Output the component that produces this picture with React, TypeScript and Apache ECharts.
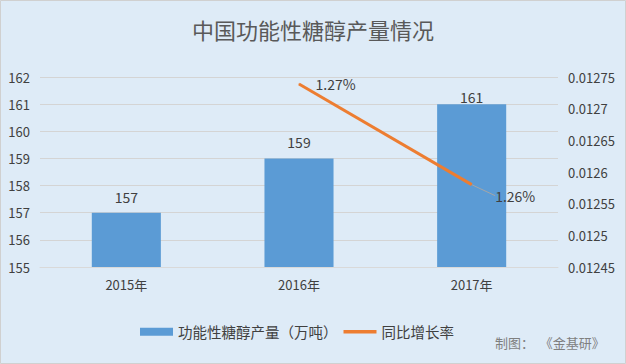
import React, { useEffect, useRef } from "react";
import * as echarts from "echarts";

const categories = ["2015年", "2016年", "2017年"];
const outputValues = [157, 159, 161];
const growthValues: (number | null)[] = [null, 0.012739, 0.01258];
const leftTicks = [155, 162, 1];
const rightTicks = [0.01245, 0.01275, 0.00005];

const FONT = "'Noto Sans CJK SC', 'Noto Sans', sans-serif";

export default function App() {
  const ref = useRef<HTMLDivElement>(null);
  useEffect(() => {
    const chart = echarts.init(ref.current!, null, { renderer: "svg" });
    chart.setOption({
      animation: false,
      backgroundColor: "#deebf7",
      textStyle: { fontFamily: FONT },
      title: {
        text: "中国功能性糖醇产量情况",
        left: "center",
        top: 13,
        textStyle: { fontSize: 22, fontWeight: "normal", color: "#595959", fontFamily: FONT },
      },
      legend: {
        bottom: 20,
        left: 135,
        itemGap: 6,
        itemWidth: 33,
        itemHeight: 8,
        textStyle: { fontSize: 14.5, color: "#404040", fontFamily: FONT },
        data: [
          { name: "功能性糖醇产量（万吨）", icon: "rect" },
          { name: "同比增长率", icon: "path://M0,0 L10,0 L10,1 L0,1 Z" },
        ],
      },
      graphic: [
        {
          id: "source",
          type: "text",
          left: 495,
          top: 336,
          style: { text: "制图：  《金基研》", fontSize: 13, fill: "#7f7f7f", fontFamily: FONT },
        },
        {
          id: "border",
          type: "rect",
          shape: { x: 0.5, y: 0.5, width: 625, height: 363 },
          style: { fill: "none", stroke: "#d0d0d0", lineWidth: 1 },
          silent: true,
        },
      ],
      grid: { left: 40, right: 68, top: 77, bottom: 97 },
      xAxis: {
        type: "category",
        data: categories,
        axisLine: { show: true, lineStyle: { color: "#d9d9d9" } },
        axisTick: { show: false },
        axisLabel: { fontSize: 13, color: "#404040", margin: 11 },
      },
      yAxis: [
        {
          type: "value",
          min: leftTicks[0],
          max: leftTicks[1],
          interval: leftTicks[2],
          axisLine: { show: false },
          axisTick: { show: false },
          axisLabel: { fontSize: 13, color: "#404040", margin: 10 },
          splitLine: { lineStyle: { color: "#d4d4d4" } },
        },
        {
          type: "value",
          min: rightTicks[0],
          max: rightTicks[1],
          interval: rightTicks[2],
          axisLine: { show: false },
          axisTick: { show: false },
          axisLabel: {
            fontSize: 13,
            color: "#404040",
            margin: 10,
            formatter: (v: number) => String(parseFloat(v.toFixed(5))),
          },
          splitLine: { show: false },
        },
      ],
      series: [
        {
          name: "功能性糖醇产量（万吨）",
          type: "bar",
          data: outputValues.map((v, i) =>
            i === outputValues.length - 1 ? { value: v, label: { distance: 0 } } : v
          ),
          barWidth: "40%",
          itemStyle: { color: "#5b9bd5" },
          label: { show: true, position: "top", distance: 9, fontSize: 14, color: "#404040" },
        },
        {
          name: "同比增长率",
          type: "line",
          yAxisIndex: 1,
          data: growthValues.map((v, i) =>
            i === 1 ? { value: v, label: { distance: 16 }, labelLine: { show: false } } : v
          ),
          symbol: "circle",
          symbolSize: 1,
          showSymbol: true,
          lineStyle: { color: "#ed7d31", width: 3 },
          itemStyle: { color: "#ed7d31" },
          label: {
            show: true,
            position: "right",
            distance: 4,
            fontSize: 14,
            color: "#404040",
            formatter: (p: any) => (p.value * 100).toFixed(2) + "%",
          },
          labelLine: { show: true, lineStyle: { color: "#a6a6a6", width: 1 } },
          labelLayout: (params: any) =>
            params.dataIndex === 2 ? { dx: 19, dy: 11 } : {},
        },
      ],
    });
    return () => chart.dispose();
  }, []);
  return (
    <div
      ref={ref}
      style={{ position: "fixed", left: 0, top: 0, width: 626, height: 364 }}
    />
  );
}
